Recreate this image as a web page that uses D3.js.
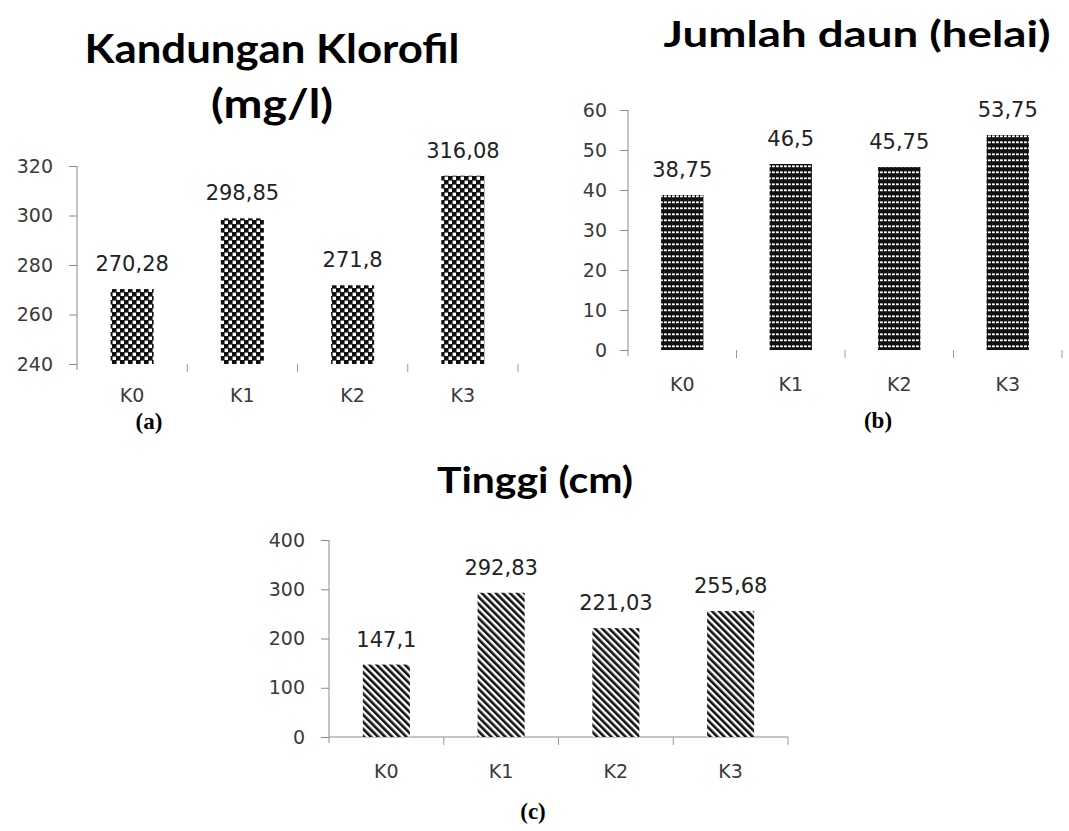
<!DOCTYPE html>
<html>
<head>
<meta charset="utf-8">
<script src="https://cdn.jsdelivr.net/npm/d3@7"></script>
<style>
  html, body { margin: 0; padding: 0; background: #fff; }
  svg { display: block; }
</style>
</head>
<body>
<svg id="fig" width="1069" height="831"></svg>
<script>
// Treatment groups shared by all three panels
const categories = ["K0", "K1", "K2", "K3"];

// (a) chlorophyll content, mg/l
const klorofilValues = [270.28, 298.85, 271.8, 316.08];
const klorofilTicks = [240, 260, 280, 300, 320];

// (b) number of leaves
const daunValues = [38.75, 46.5, 45.75, 53.75];
const daunTicks = [0, 10, 20, 30, 40, 50, 60];

// (c) plant height, cm
const tinggiValues = [147.1, 292.83, 221.03, 255.68];
const tinggiTicks = [0, 100, 200, 300, 400];

const titleFont = "Lato, 'Open Sans', sans-serif";
const bodyFont = "'DejaVu Sans', 'Noto Sans', sans-serif";

const svg = d3.select("#fig");
const defs = svg.append("defs");

// Checkerboard fill
const chk = defs.append("pattern").attr("id", "pat-check")
  .attr("patternUnits", "userSpaceOnUse").attr("width", 8).attr("height", 8);
chk.append("rect").attr("width", 8).attr("height", 8).attr("fill", "#fff");
chk.append("rect").attr("x", 0).attr("y", 0).attr("width", 4.6).attr("height", 4.6).attr("fill", "#111");
chk.append("rect").attr("x", 4).attr("y", 4).attr("width", 4.6).attr("height", 4.6).attr("fill", "#111");
chk.append("rect").attr("x", 0).attr("y", 4).attr("width", 0.6).attr("height", 4).attr("fill", "#111");
chk.append("rect").attr("x", 4).attr("y", 0).attr("width", 4).attr("height", 0.6).attr("fill", "#111");

// Dark fill broken by dashed white rows
const dsh = defs.append("pattern").attr("id", "pat-dash")
  .attr("patternUnits", "userSpaceOnUse").attr("width", 4).attr("height", 6);
dsh.append("rect").attr("width", 4).attr("height", 6).attr("fill", "#111");
dsh.append("rect").attr("x", 0).attr("y", 3.4).attr("width", 2.8).attr("height", 1.8).attr("fill", "#fff");

// Diagonal stripes running down to the right
const dia = defs.append("pattern").attr("id", "pat-diag")
  .attr("patternUnits", "userSpaceOnUse").attr("width", 5).attr("height", 5)
  .attr("patternTransform", "rotate(-45)");
dia.append("rect").attr("width", 5).attr("height", 5).attr("fill", "#fff");
dia.append("rect").attr("x", 0).attr("y", 0).attr("width", 2.6).attr("height", 5).attr("fill", "#111");

const fmt = v => String(v).replace(".", ",");

function panel(cfg) {
  const g = svg.append("g");
  const x = d3.scaleBand().domain(categories).range(cfg.xRange)
    .paddingInner(cfg.pad).paddingOuter(cfg.pad / 2);
  const y = d3.scaleLinear().domain(cfg.yDomain).range(cfg.yRange);
  const base = cfg.yRange[0];

  // Title lines
  cfg.title.forEach((t, i) => {
    g.append("text")
      .attr("x", cfg.titleX).attr("y", cfg.titleY[i])
      .attr("text-anchor", "middle")
      .attr("font-family", titleFont).attr("font-weight", 700)
      .attr("font-size", cfg.titleSize).attr("fill", "#000")
      .attr("textLength", cfg.titleLen[i]).attr("lengthAdjust", "spacingAndGlyphs")
      .text(t);
  });

  // Value axis
  const ya = g.append("g").attr("transform", `translate(${cfg.xRange[0]},0)`)
    .call(d3.axisLeft(y).tickValues(cfg.ticks).tickSize(8).tickPadding(cfg.tickPad).tickFormat(d => d));
  ya.select(".domain").attr("stroke", "#8a8a8a").attr("d", `M0,${y(cfg.yDomain[1])}V${base + 6}`);
  ya.selectAll(".tick line").attr("stroke", "#8a8a8a");
  ya.selectAll(".tick text").attr("font-family", bodyFont).attr("font-size", 19).attr("fill", "#3a3a3a");

  // Category axis line and separators
  if (cfg.showBaseLine) {
    g.append("line").attr("x1", cfg.xRange[0]).attr("x2", cfg.xRange[1])
      .attr("y1", base).attr("y2", base).attr("stroke", "#8a8a8a").attr("stroke-width", 1);
  }
  const edges = d3.range(categories.length + 1).map(i => cfg.xRange[0] + i * x.step());
  g.selectAll(".sep").data(edges.slice(1)).join("line")
    .attr("x1", d => d).attr("x2", d => d)
    .attr("y1", base).attr("y2", base + 8)
    .attr("stroke", "#999").attr("stroke-width", 1);

  // Bars
  g.selectAll(".bar").data(cfg.values).join("rect")
    .attr("x", (d, i) => x(categories[i]))
    .attr("width", x.bandwidth())
    .attr("y", d => y(d))
    .attr("height", d => base - y(d))
    .attr("fill", `url(#${cfg.pattern})`);

  // Value labels
  g.selectAll(".val").data(cfg.values).join("text")
    .attr("x", (d, i) => x(categories[i]) + x.bandwidth() / 2)
    .attr("y", d => y(d) - 18)
    .attr("text-anchor", "middle")
    .attr("font-family", bodyFont).attr("font-size", 21).attr("fill", "#222")
    .text(fmt);

  // Category labels
  g.selectAll(".cat").data(categories).join("text")
    .attr("x", d => x(d) + x.bandwidth() / 2)
    .attr("y", base + cfg.catGap)
    .attr("text-anchor", "middle")
    .attr("font-family", bodyFont).attr("font-size", 19).attr("fill", "#3a3a3a")
    .text(d => d);

  // Panel letter
  svg.append("text")
    .attr("x", cfg.letterX).attr("y", cfg.letterY)
    .attr("text-anchor", "middle")
    .attr("font-family", "'Liberation Serif', 'Times New Roman', serif")
    .attr("font-weight", 700).attr("font-size", 23).attr("fill", "#000")
    .text(cfg.letter);
}

panel({
  title: ["Kandungan Klorofil", "(mg/l)"], titleX: 272, titleY: [63, 118],
  titleSize: 40, titleLen: [375, 122],
  values: klorofilValues, ticks: klorofilTicks, yDomain: [240, 320], yRange: [364, 166],
  xRange: [77, 518], pad: 0.61, pattern: "pat-check", showBaseLine: false, catGap: 38,
  tickPad: 16, letter: "(a)", letterX: 149, letterY: 429
});

panel({
  title: ["Jumlah daun (helai)"], titleX: 857, titleY: [47],
  titleSize: 36, titleLen: [387],
  values: daunValues, ticks: daunTicks, yDomain: [0, 60], yRange: [350, 110],
  xRange: [628, 1062], pad: 0.61, pattern: "pat-dash", showBaseLine: false, catGap: 41,
  tickPad: 13, letter: "(b)", letterX: 878, letterY: 428
});

panel({
  title: ["Tinggi (cm)"], titleX: 535, titleY: [493],
  titleSize: 36, titleLen: [196],
  values: tinggiValues, ticks: tinggiTicks, yDomain: [0, 400], yRange: [737, 540],
  xRange: [329, 788], pad: 0.59, pattern: "pat-diag", showBaseLine: true, catGap: 41,
  tickPad: 16, letter: "(c)", letterX: 533, letterY: 819
});
</script>
</body>
</html>
